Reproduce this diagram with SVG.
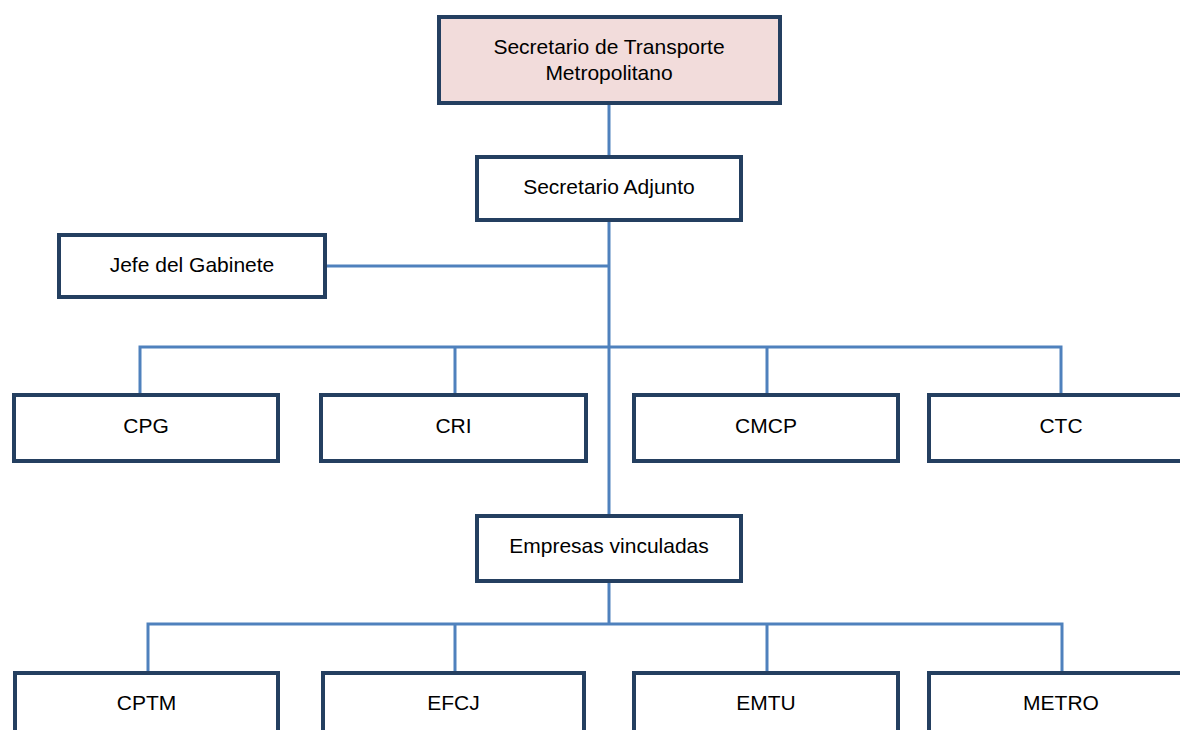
<svg xmlns="http://www.w3.org/2000/svg" width="1180" height="730" viewBox="0 0 1180 730">
<style>
.box{fill:#ffffff;stroke:#243F60;stroke-width:4}
.top{fill:#F2DCDB}
.lbl{font-family:"Liberation Sans",Arial,sans-serif;font-size:21px;fill:#000;text-anchor:middle}
.con{fill:none;stroke:#4F81BD;stroke-width:3}
</style>
<rect width="1180" height="730" fill="#ffffff"/>
<g id="connectors">
<path class="con" d="M609 105V514"/>
<path class="con" d="M327 266H609"/>
<path class="con" d="M140 393V347H1061V393M455 347V393M767 347V393"/>
<path class="con" d="M609 583V624"/>
<path class="con" d="M148 671V624H1062V671M455 624V671M767 624V671"/>
</g>
<g id="secretario">
<rect class="box top" x="439" y="17" width="341" height="86"/>
<text class="lbl" x="609" y="54">Secretario de Transporte</text>
<text class="lbl" x="609" y="80">Metropolitano</text>
</g>
<g id="adjunto">
<rect class="box" x="477" y="157" width="264" height="63"/>
<text class="lbl" x="609" y="194">Secretario Adjunto</text>
</g>
<g id="jefe">
<rect class="box" x="59" y="235" width="266" height="62"/>
<text class="lbl" x="192" y="272">Jefe del Gabinete</text>
</g>
<g id="cpg">
<rect class="box" x="14" y="395" width="264" height="66"/>
<text class="lbl" x="146" y="433">CPG</text>
</g>
<g id="cri">
<rect class="box" x="321" y="395" width="265" height="66"/>
<text class="lbl" x="453.5" y="433">CRI</text>
</g>
<g id="cmcp">
<rect class="box" x="634" y="395" width="264" height="66"/>
<text class="lbl" x="766" y="433">CMCP</text>
</g>
<g id="ctc">
<rect class="box" x="929" y="395" width="264" height="66"/>
<text class="lbl" x="1061" y="433">CTC</text>
</g>
<g id="empresas">
<rect class="box" x="477" y="516" width="264" height="65"/>
<text class="lbl" x="609" y="553">Empresas vinculadas</text>
</g>
<g id="cptm">
<rect class="box" x="15" y="673" width="263" height="70"/>
<text class="lbl" x="146.5" y="710">CPTM</text>
</g>
<g id="efcj">
<rect class="box" x="323" y="673" width="261" height="70"/>
<text class="lbl" x="453.5" y="710">EFCJ</text>
</g>
<g id="emtu">
<rect class="box" x="634" y="673" width="264" height="70"/>
<text class="lbl" x="766" y="710">EMTU</text>
</g>
<g id="metro">
<rect class="box" x="929" y="673" width="264" height="70"/>
<text class="lbl" x="1061" y="710">METRO</text>
</g>
</svg>
